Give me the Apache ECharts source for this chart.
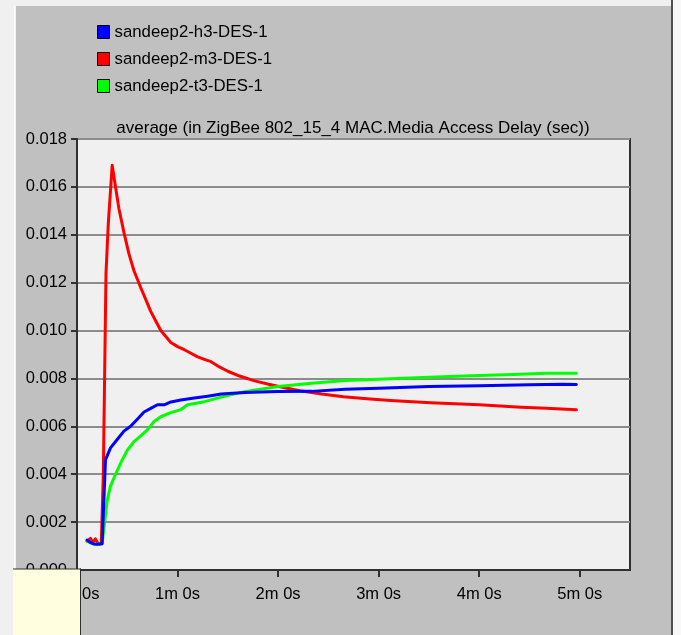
<!DOCTYPE html>
<html>
<head>
<meta charset="utf-8">
<script src="https://cdn.jsdelivr.net/npm/echarts@6/dist/echarts.min.js"></script>
<style>
  html, body { margin: 0; padding: 0; background: #c0c0c0; }
  #chart { width: 681px; height: 635px; }
</style>
</head>
<body>
<div id="chart"></div>
<script>
// Media access delay, running average, per node (time in seconds, delay in seconds)
const seriesNames = ['sandeep2-h3-DES-1', 'sandeep2-m3-DES-1', 'sandeep2-t3-DES-1'];
const seriesColors = ['#0000ff', '#ff0000', '#00ff00'];

const h3Delay = [
  [6, 0.00125], [8, 0.00115], [10, 0.00109], [12, 0.00108], [15, 0.0011],
  [17, 0.0046], [20, 0.0051], [24, 0.00545], [28, 0.0058], [32, 0.006],
  [36, 0.0063], [40, 0.0066], [44, 0.00675], [48, 0.0069], [52, 0.0069],
  [56, 0.00702], [62, 0.0071], [70, 0.00718], [78, 0.00726], [86, 0.00735],
  [100, 0.00741], [120, 0.00745], [140, 0.00746], [160, 0.00755], [180, 0.00759],
  [210, 0.00766], [240, 0.0077], [270, 0.00774], [290, 0.00776], [298, 0.00775]
];

const m3Delay = [
  [6, 0.0012], [8, 0.00132], [9.5, 0.00115], [11, 0.0013], [12.5, 0.0011],
  [14.5, 0.0011], [15.7, 0.004], [16.5, 0.0082], [17.3, 0.0124], [18.7, 0.0145],
  [21, 0.0169], [23, 0.0160], [25, 0.0151], [28, 0.0141], [31, 0.0132],
  [34, 0.0125], [38, 0.0118], [41, 0.0113], [44, 0.0108], [47, 0.0104],
  [50, 0.0100], [53, 0.00975], [56, 0.0095], [60, 0.00933], [64, 0.0092],
  [68, 0.00905], [72, 0.0089], [76, 0.0088], [80, 0.0087], [85, 0.00848],
  [90, 0.0083], [97, 0.0081], [106, 0.0079], [115, 0.00775], [124, 0.00761],
  [133, 0.00749], [146, 0.00735], [159, 0.00724], [173, 0.00715], [187, 0.00708],
  [211, 0.00699], [240, 0.0069], [265, 0.0068], [280, 0.00676], [298, 0.00669]
];

const t3Delay = [
  [6, 0.0012], [9, 0.0011], [12, 0.00108], [15, 0.0011], [16.5, 0.002],
  [18, 0.0029], [20, 0.0035], [23, 0.004], [27, 0.0046], [30, 0.005],
  [34, 0.00536], [38, 0.0056], [42, 0.00585], [46, 0.0062], [50, 0.0064],
  [56, 0.00657], [62, 0.0067], [66, 0.0069], [76, 0.00703], [86, 0.00722],
  [100, 0.00745], [120, 0.00766], [140, 0.0078], [160, 0.00791], [180, 0.00797],
  [210, 0.00805], [240, 0.00812], [260, 0.00816], [280, 0.00822], [298, 0.00822]
];

const timeTicks = [0, 60, 120, 180, 240, 300];
const delayTicks = [0, 0.002, 0.004, 0.006, 0.008, 0.010, 0.012, 0.014, 0.016, 0.018];
const chartTitle = 'average (in ZigBee 802_15_4 MAC.Media Access Delay (sec))';

const FONT = '"Liberation Sans", Arial, sans-serif';
const FS = 16.5;

const chart = echarts.init(document.getElementById('chart'), null, { renderer: 'canvas' });

const legendRows = seriesNames.map((name, i) => ({
  data: [name],
  left: 97,
  top: 23.5 + i * 27,
  orient: 'vertical',
  padding: 0,
  icon: 'rect',
  itemWidth: 12,
  itemHeight: 13,
  selectedMode: false,
  itemStyle: { borderColor: '#000', borderWidth: 1 },
  textStyle: { fontFamily: FONT, fontSize: 16.8, color: '#000', lineHeight: 13 }
}));

const dataBySeries = [h3Delay, m3Delay, t3Delay];
const zOrder = [4, 2, 3];

chart.setOption({
  animation: false,
  backgroundColor: '#c0c0c0',
  legend: legendRows,
  grid: {
    left: 77, right: 51, top: 139, bottom: 65,
    show: true,
    backgroundColor: '#f0f0f0',
    borderColor: '#303030',
    borderWidth: 2
  },
  xAxis: {
    type: 'value',
    min: 0, max: 330, interval: 60,
    axisLine: { show: true, lineStyle: { color: '#303030', width: 2 } },
    axisTick: { show: true, length: 7, lineStyle: { color: '#303030', width: 2 }, customValues: timeTicks },
    axisLabel: {
      customValues: timeTicks,
      margin: 16,
      fontFamily: FONT, fontSize: FS, color: '#000',
      formatter: v => (v / 60) + 'm 0s'
    },
    splitLine: { show: false }
  },
  yAxis: {
    type: 'value',
    min: 0, max: 0.018, interval: 0.002,
    axisLine: { show: true, lineStyle: { color: '#303030', width: 2 } },
    axisTick: { show: true, length: 6, lineStyle: { color: '#303030', width: 2 }, customValues: delayTicks },
    axisLabel: {
      customValues: delayTicks,
      margin: 10,
      fontFamily: FONT, fontSize: FS, color: '#000',
      formatter: v => v.toFixed(3)
    },
    splitLine: { show: true, lineStyle: { color: '#8c8c8c', width: 2 } }
  },
  series: seriesNames.map((name, i) => ({
    name,
    type: 'line',
    data: dataBySeries[i],
    z: zOrder[i],
    showSymbol: false,
    symbol: 'none',
    smooth: false,
    color: seriesColors[i],
    lineStyle: { color: seriesColors[i], width: 3, cap: 'round', join: 'round' }
  })),
  graphic: [
    // window frame strips
    { type: 'rect', z: 1, shape: { x: 0, y: 0, width: 681, height: 6 }, style: { fill: '#f0f0f0' } },
    { type: 'rect', z: 1, shape: { x: 0, y: 0, width: 16, height: 635 }, style: { fill: '#f0f0f0' } },
    { type: 'rect', z: 1, shape: { x: 14, y: 6, width: 1, height: 629 }, style: { fill: '#ffffff' } },
    { type: 'rect', z: 1, shape: { x: 671, y: 0, width: 2, height: 635 }, style: { fill: '#505050' } },
    { type: 'rect', z: 1, shape: { x: 673, y: 0, width: 8, height: 635 }, style: { fill: '#f8f8f8' } },
    // chart title
    {
      type: 'text', z: 10, x: 353, y: 128,
      style: {
        text: chartTitle, fill: '#000', font: '17px ' + FONT,
        align: 'center', verticalAlign: 'middle'
      }
    },
    // note box in the lower-left corner
    { type: 'rect', z: 100, shape: { x: 13, y: 569, width: 67, height: 70 }, style: { fill: '#ffffe0' } },
    { type: 'rect', z: 101, shape: { x: 13, y: 568.5, width: 68, height: 1 }, style: { fill: '#303030' } },
    { type: 'rect', z: 101, shape: { x: 80, y: 568.5, width: 1, height: 70 }, style: { fill: '#303030' } }
  ]
});
</script>
</body>
</html>
